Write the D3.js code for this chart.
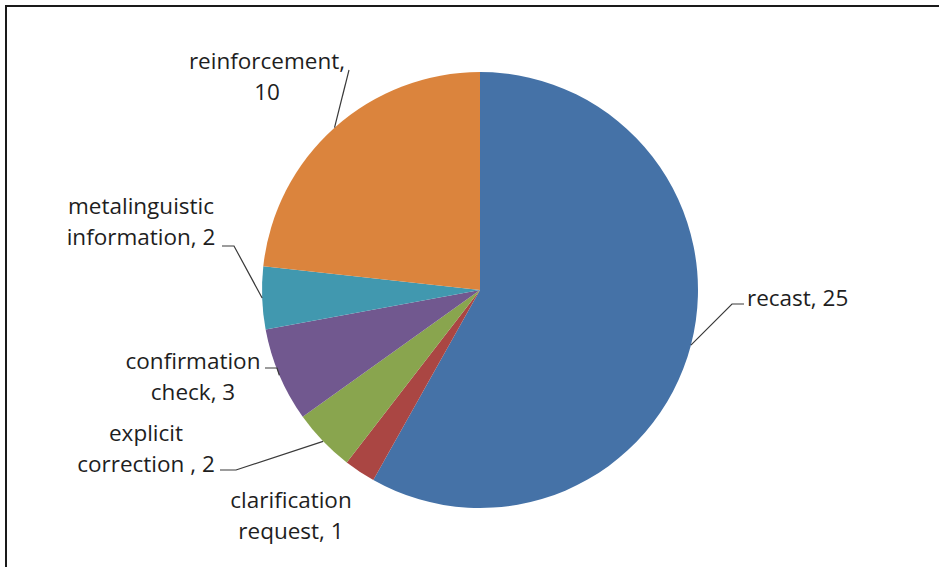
<!DOCTYPE html>
<html>
<head>
<meta charset="utf-8">
<script src="https://cdn.jsdelivr.net/npm/d3@7"></script>
<style>
  html, body { margin: 0; padding: 0; background: #fff; }
  svg { display: block; }
</style>
</head>
<body>
<svg id="chart" width="939" height="567"></svg>
<script>
// ---- data ----
const categories = ["recast", "clarification request", "explicit correction ", "confirmation check", "metalinguistic information", "reinforcement"];
const values = [25, 1, 2, 3, 2, 10];
const labelLines = [
  ["recast, 25"],
  ["clarification", "request, 1"],
  ["explicit", "correction , 2"],
  ["confirmation", "check, 3"],
  ["metalinguistic", "information, 2"],
  ["reinforcement,", "10"]
];
const colors = ["#4572A7", "#AA4643", "#89A54E", "#71588F", "#4198AF", "#DB843D"];

// ---- layout (label placement) ----
const layout = [
  { x: 747, y: 306, anchor: "start", elbow: [732, 304], end: [744, 304] },
  { x: 291, y: 508, anchor: "middle", elbow: null },
  { x: 146, y: 441, anchor: "middle", elbow: [236, 470], end: [220, 470] },
  { x: 193, y: 369, anchor: "middle", elbow: [277, 368], end: [265, 368] },
  { x: 141, y: 214, anchor: "middle", elbow: [234, 246], end: [222, 246] },
  { x: 267, y: 69, anchor: "middle", elbow: [349, 70], end: null }
];
const lineGap = 31;

const svg = d3.select("#chart");
const W = 939, H = 567;
const cx = 480, cy = 290, R = 218;

// frame
svg.append("path")
  .attr("d", `M6,${H + 2} L6,6 L${W + 2},6`)
  .attr("fill", "none").attr("stroke", "#1a1a1a").attr("stroke-width", 2);

const pie = d3.pie().sort(null).value(d => d)(values);
const arc = d3.arc().innerRadius(0).outerRadius(R);

const g = svg.append("g").attr("transform", `translate(${cx},${cy})`);
g.selectAll("path.slice").data(pie).join("path")
  .attr("class", "slice")
  .attr("d", arc)
  .attr("fill", (d, i) => colors[i]);

// leader lines
pie.forEach((d, i) => {
  const L = layout[i];
  if (!L.elbow) return;
  const mid = (d.startAngle + d.endAngle) / 2;
  const px = cx + R * Math.sin(mid), py = cy - R * Math.cos(mid);
  const pts = [[px, py], L.elbow];
  if (L.end) pts.push(L.end);
  svg.append("path")
    .attr("d", d3.line()(pts))
    .attr("fill", "none").attr("stroke", "#3a3a3a").attr("stroke-width", 1.2);
});

// labels
labelLines.forEach((lines, i) => {
  const L = layout[i];
  const t = svg.append("text")
    .attr("font-family", "'Open Sans', sans-serif")
    .attr("font-size", 22.5)
    .attr("fill", "#1e1e1e")
    .attr("text-anchor", L.anchor);
  lines.forEach((s, k) => {
    t.append("tspan").attr("x", L.x).attr("y", L.y + k * lineGap).text(s);
  });
});
</script>
</body>
</html>
